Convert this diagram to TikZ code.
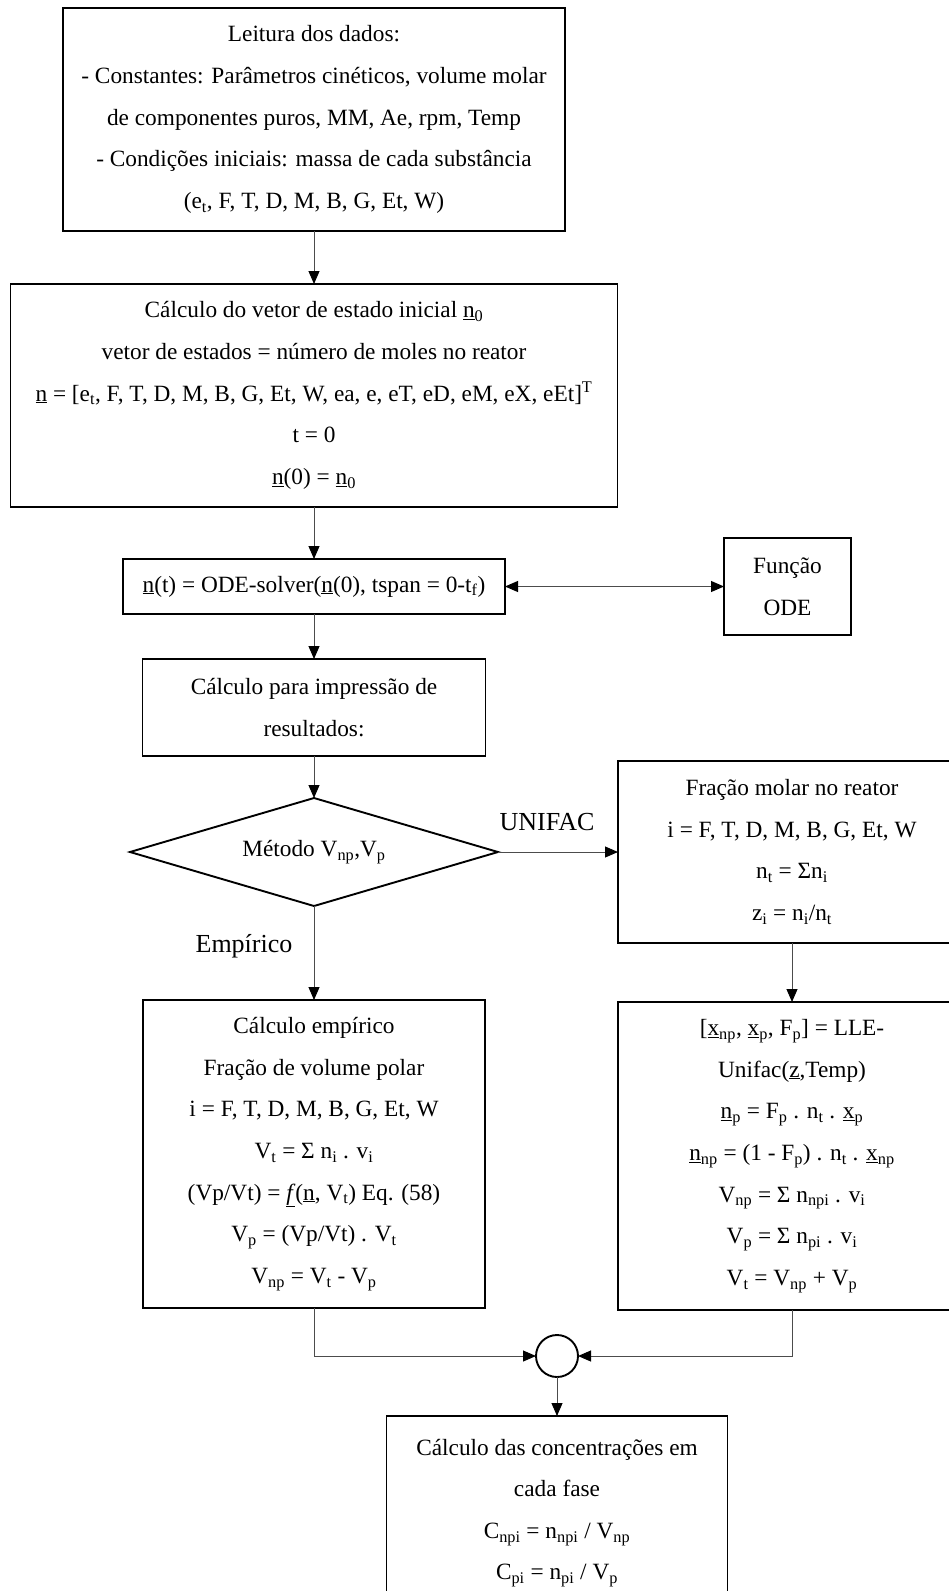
\documentclass[tikz,border=0pt]{standalone}
\usepackage{fontspec}
\setmainfont{Liberation Serif}
\usepackage{tikz}
\usetikzlibrary{shapes.geometric,arrows.meta,positioning,calc}

\begin{document}
\begin{tikzpicture}[
    x=1pt, y=-1pt,
    node distance=50pt,
    font=\fontsize{23.3}{41.6}\selectfont,
    block/.style={rectangle, draw, line width=1.9pt, align=center, inner sep=0pt, outer sep=0pt},
    decision/.style={diamond, draw, line width=1.9pt, align=center, inner sep=0pt, outer sep=0pt, aspect=3.4, minimum width=368pt, minimum height=108pt},
    junction/.style={circle, draw, line width=1.9pt, minimum size=42pt, inner sep=0pt, outer sep=0pt},
    arrow/.style={-{Triangle[length=13pt,width=11pt,color=black]}, line width=1pt, draw=black!70},
    dblarrow/.style={{Triangle[length=13pt,width=11pt,color=black]}-{Triangle[length=13pt,width=11pt,color=black]}, line width=1pt, draw=black!70},
    branch/.style={font=\fontsize{26}{30}\selectfont, inner sep=0pt}
]
\useasboundingbox (0,0) rectangle (949,1591);

\node[block, minimum width=502pt, minimum height=223pt] (leitura) at (314,119.5) {Leitura dos dados:\\- Constantes: Parâmetros cinéticos, volume molar\\de componentes puros, MM, Ae, rpm, Temp\\- Condições iniciais: massa de cada substância\\(e\textsubscript{t}, F, T, D, M, B, G, Et, W)};
\node[block, minimum width=607pt, minimum height=223pt, below=53pt of leitura] (inicial) {Cálculo do vetor de estado inicial \underline{n}\textsubscript{0}\\vetor de estados = número de moles no reator\\\underline{n} = [e\textsubscript{t}, F, T, D, M, B, G, Et, W, ea, e, eT, eD, eM, eX, eEt]\textsuperscript{T}\\t = 0\\\underline{n}(0) = \underline{n}\textsubscript{0}};
\node[block, minimum width=382pt, minimum height=55pt, below=52pt of inicial] (solver) {\underline{n}(t) = ODE-solver(\underline{n}(0), tspan = 0-t\textsubscript{f})};
\node[block, minimum width=127pt, minimum height=97pt, right=219pt of solver] (funcao) {Função\\ODE};
\node[block, minimum width=343pt, minimum height=97pt, below=45pt of solver] (impressao) {Cálculo para impressão de\\resultados:};
\node[decision, below=42pt of impressao] (metodo) {Método V\textsubscript{np},V\textsubscript{p}};
\node[block, minimum width=348pt, minimum height=182pt, right=120pt of metodo] (fracao) {Fração molar no reator\\i = F, T, D, M, B, G, Et, W\\n\textsubscript{t} = Σn\textsubscript{i}\\z\textsubscript{i} = n\textsubscript{i}/n\textsubscript{t}};
\node[block, minimum width=342pt, minimum height=308pt, below=94pt of metodo] (empirico) {Cálculo empírico\\Fração de volume polar\\i = F, T, D, M, B, G, Et, W\\V\textsubscript{t} = Σ n\textsubscript{i} . v\textsubscript{i}\\(Vp/Vt) = \underline{\textit{f}}(\underline{n}, V\textsubscript{t}) Eq. (58)\\V\textsubscript{p} = (Vp/Vt) . V\textsubscript{t}\\V\textsubscript{np} = V\textsubscript{t} - V\textsubscript{p}};
\node[block, minimum width=348pt, minimum height=308pt, below=59pt of fracao] (unifac) {[\underline{x}\textsubscript{np}, \underline{x}\textsubscript{p}, F\textsubscript{p}] = LLE-\\Unifac(\underline{z},Temp)\\\underline{n}\textsubscript{p} = F\textsubscript{p} . n\textsubscript{t} . \underline{x}\textsubscript{p}\\\underline{n}\textsubscript{np} = (1 - F\textsubscript{p}) . n\textsubscript{t} . \underline{x}\textsubscript{np}\\V\textsubscript{np} = Σ n\textsubscript{npi} . v\textsubscript{i}\\V\textsubscript{p} = Σ n\textsubscript{pi} . v\textsubscript{i}\\V\textsubscript{t} = V\textsubscript{np} + V\textsubscript{p}};
\node[junction] (soma) at (557,1356) {};
\node[block, minimum width=341pt, minimum height=194pt, below=39pt of soma] (conc) {Cálculo das concentrações em\\cada fase\\C\textsubscript{npi} = n\textsubscript{npi} / V\textsubscript{np}\\C\textsubscript{pi} = n\textsubscript{pi} / V\textsubscript{p}};
\node[branch] (rotulou) at (547,822) {UNIFAC};
\node[branch] (rotuloe) at (244,946) {Empírico};

\draw[arrow] (leitura) -- (inicial);
\draw[arrow] (inicial) -- (solver);
\draw[dblarrow] (solver) -- (funcao);
\draw[arrow] (solver) -- (impressao);
\draw[arrow] (impressao) -- (metodo);
\draw[arrow] (metodo.east) -- (metodo.east -| fracao.west);
\draw[arrow] (metodo) -- (empirico);
\draw[arrow] (fracao) -- (unifac);
\draw[arrow] (empirico.south) |- (soma.west);
\draw[arrow] (unifac.south) |- (soma.east);
\draw[arrow] (soma) -- (conc);
\end{tikzpicture}
\end{document}
